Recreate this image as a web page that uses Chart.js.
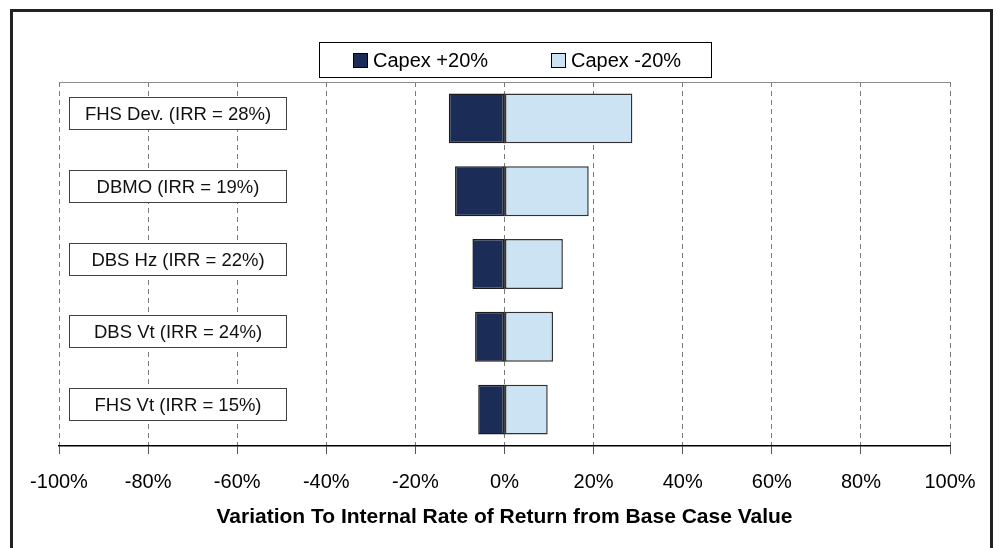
<!DOCTYPE html>
<html>
<head>
<meta charset="utf-8">
<script src="https://cdn.jsdelivr.net/npm/chart.js@4.4.0/dist/chart.umd.min.js"></script>
<style>
  html, body { margin: 0; padding: 0; background: #fff; }
  canvas { display: block; }
</style>
</head>
<body>
<canvas id="chart" width="995" height="548"></canvas>
<script>
const projects = [
  "FHS Dev. (IRR = 28%)",
  "DBMO (IRR = 19%)",
  "DBS Hz (IRR = 22%)",
  "DBS Vt (IRR = 24%)",
  "FHS Vt (IRR = 15%)"
]
const capexUp = [-12.5, -11.1, -7.2, -6.6, -5.9]
const capexDown = [28.7, 18.9, 13.1, 10.9, 9.7]
const seriesNames = ["Capex +20%", "Capex -20%"]
const seriesColors = ["#1b2d57", "#cce3f3"]
const xTitle = "Variation To Internal Rate of Return from Base Case Value"

Chart.defaults.font.family = "'Liberation Sans', Arial, sans-serif"
Chart.defaults.color = "#000"

// frame, plot top edge, boxed category labels and the boxed legend
const decorations = {
  id: "decorations",
  beforeDraw(chart) {
    const ctx = chart.ctx
    ctx.save()
    ctx.fillStyle = "#fff"
    ctx.fillRect(0, 0, chart.width, chart.height)
    ctx.restore()
  },
  afterDatasetsDraw(chart) {
    const ctx = chart.ctx
    const area = chart.chartArea
    const y = chart.scales.y
    const x = chart.scales.x

    ctx.save()
    ctx.strokeStyle = "#8c8c8c"
    ctx.lineWidth = 1
    ctx.beginPath()
    ctx.moveTo(area.left, area.top + 0.5)
    ctx.lineTo(area.right, area.top + 0.5)
    ctx.stroke()

    // shared edge of the two bars at zero
    const zero = x.getPixelForValue(0)
    const meta = chart.getDatasetMeta(0)
    ctx.strokeStyle = "#444"
    ctx.lineWidth = 1.5
    meta.data.forEach(bar => {
      const half = bar.height / 2
      ctx.beginPath()
      ctx.moveTo(zero, bar.y - half)
      ctx.lineTo(zero, bar.y + half)
      ctx.stroke()
    })
    ctx.lineWidth = 1

    ctx.font = "18.5px 'Liberation Sans', Arial"
    ctx.textAlign = "center"
    ctx.textBaseline = "middle"
    projects.forEach((name, i) => {
      const cy = Math.round(y.getPixelForValue(i) - 4.5)
      ctx.fillStyle = "#fff"
      ctx.fillRect(69.5, cy - 16.5, 217, 32)
      ctx.strokeStyle = "#404040"
      ctx.strokeRect(69.5, cy - 16.5, 217, 32)
      ctx.fillStyle = "#111"
      ctx.fillText(name, 178, cy + 1)
    })

    // legend
    ctx.fillStyle = "#fff"
    ctx.fillRect(319.5, 42.5, 392, 35)
    ctx.strokeStyle = "#000"
    ctx.strokeRect(319.5, 42.5, 392, 35)
    ctx.font = "20px 'Liberation Sans', Arial"
    ctx.textAlign = "left"
    const items = [353, 551]
    items.forEach((lx, i) => {
      ctx.fillStyle = seriesColors[i]
      ctx.fillRect(lx + 0.5, 53.5, 14, 14)
      ctx.strokeStyle = "#000"
      ctx.strokeRect(lx + 0.5, 53.5, 14, 14)
      ctx.fillStyle = "#000"
      ctx.fillText(seriesNames[i], lx + 20, 61)
    })

    ctx.strokeStyle = "#222"
    ctx.lineWidth = 3
    ctx.strokeRect(11.5, 10.5, 980, 600)
    ctx.restore()
  }
}

new Chart(document.getElementById("chart"), {
  type: "bar",
  data: {
    labels: projects,
    datasets: [
      {
        label: seriesNames[0],
        data: capexUp,
        backgroundColor: seriesColors[0],
        borderColor: "#1a1a1a",
        borderWidth: 1.5,
        borderSkipped: false
      },
      {
        label: seriesNames[1],
        data: capexDown,
        backgroundColor: seriesColors[1],
        borderColor: "#333",
        borderWidth: 1.5,
        borderSkipped: false
      }
    ]
  },
  options: {
    indexAxis: "y",
    responsive: false,
    animation: false,
    events: [],
    layout: {
      padding: { left: 59, right: 45, top: 82, bottom: 0 }
    },
    datasets: {
      bar: { barPercentage: 0.685, categoryPercentage: 1 }
    },
    plugins: {
      legend: { display: false },
      tooltip: { enabled: false }
    },
    scales: {
      x: {
        stacked: true,
        min: -100,
        max: 100,
        afterFit(scale) {
          scale.height = 102
        },
        ticks: {
          stepSize: 20,
          padding: 16,
          maxRotation: 0,
          color: "#000",
          font: { size: 20 },
          callback: value => value + "%"
        },
        grid: {
          color: "#7a7a7a",
          lineWidth: 1,
          tickLength: 8,
          tickColor: "#555",
          tickBorderDash: []
        },
        border: {
          display: true,
          color: "#000",
          width: 1.5,
          dash: [5, 4]
        },
        title: {
          display: true,
          text: xTitle,
          color: "#000",
          font: { size: 21, weight: "bold" },
          padding: { top: 0, bottom: 18 }
        }
      },
      y: {
        stacked: true,
        display: false
      }
    }
  },
  plugins: [decorations]
})
</script>
</body>
</html>
